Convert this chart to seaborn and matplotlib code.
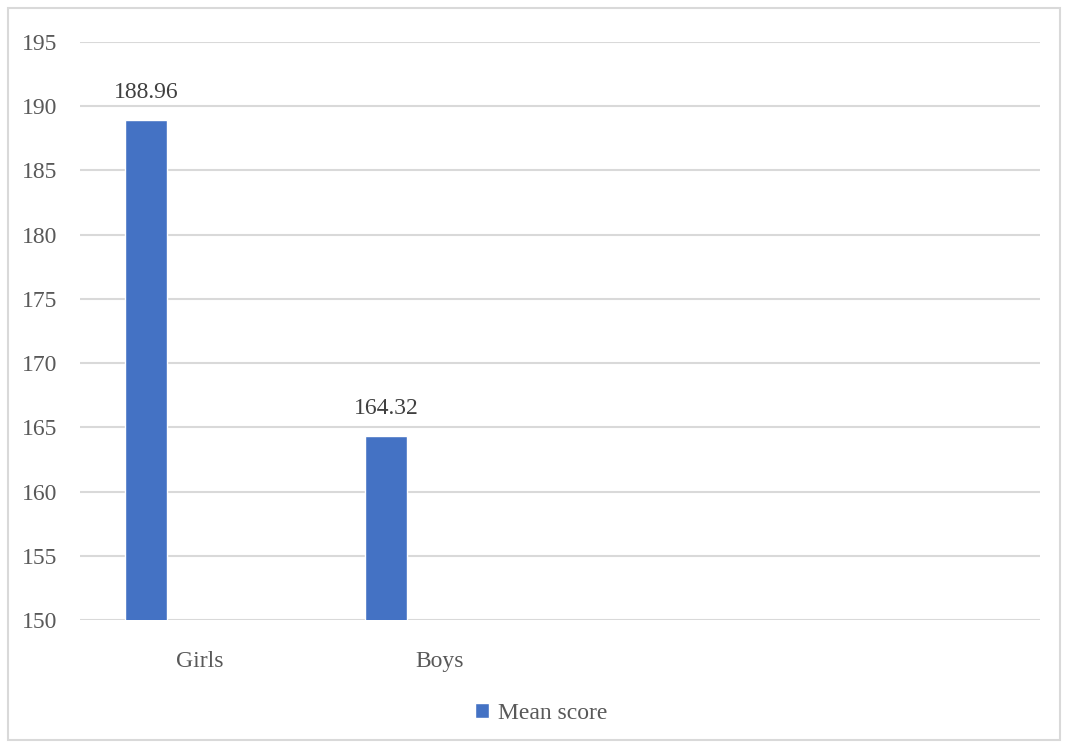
import numpy as np
import pandas as pd
import matplotlib.pyplot as plt
import seaborn as sns
from matplotlib.patches import Rectangle

# data
categories = ["Girls", "Boys", " ", "  "]
groups = ["Girls", "Boys"]
mean_score = [188.96, 164.32]
series = ["Mean score", "_s2", "_s3"]
y_ticks = [150, 155, 160, 165, 170, 175, 180, 185, 190, 195]

df = pd.DataFrame({"group": groups, "score": mean_score, "series": series[0]})

sns.set_style("white")
plt.rcParams['font.family'] = ['Liberation Serif', 'DejaVu Serif']

fig = plt.figure(figsize=(10.65, 7.47), dpi=100)
ax = fig.add_axes([0.0751, 0.170, 0.9014, 0.7738])

sns.barplot(data=df, x="group", y="score", hue="series", order=categories,
            hue_order=series, palette=["#4472C4", "#ED7D31", "#A5A5A5"],
            width=0.675, gap=0.222, dodge=True, legend=False, ax=ax,
            saturation=1, err_kws={"linewidth": 0})

ax.set_ylim(150, 195)
ax.set_xlim(-0.5, 3.5)
ax.set_yticks(y_ticks)
ax.yaxis.grid(True, color="#d9d9d9", linewidth=1.5)
ax.set_axisbelow(True)
for s in ax.spines.values():
    s.set_visible(False)
ax.set_xlabel("")
ax.set_ylabel("")
ax.tick_params(axis="y", length=0, pad=16, labelsize=17, labelcolor="#595959")
ax.tick_params(axis="x", length=0, pad=22, labelsize=17, labelcolor="#595959")

# value labels
ax.bar_label(ax.containers[0], labels=[f"{v:.2f}" for v in mean_score],
             padding=12, fontsize=17, color="#404040")

# legend
handles = [ax.containers[0].patches[0]]
fig.legend(handles, ["Mean score"], loc="center", bbox_to_anchor=(0.508, 0.045),
           frameon=False, fontsize=17, labelcolor="#595959",
           handlelength=0.6, handleheight=0.6, handletextpad=0.4)

# chart frame
fig.patches.append(Rectangle((8 / 1065, 7 / 747), 1052 / 1065, 732 / 747,
                             transform=fig.transFigure, fill=False,
                             edgecolor="#d9d9d9", linewidth=1.5))

fig.savefig("out.png", dpi=100)
